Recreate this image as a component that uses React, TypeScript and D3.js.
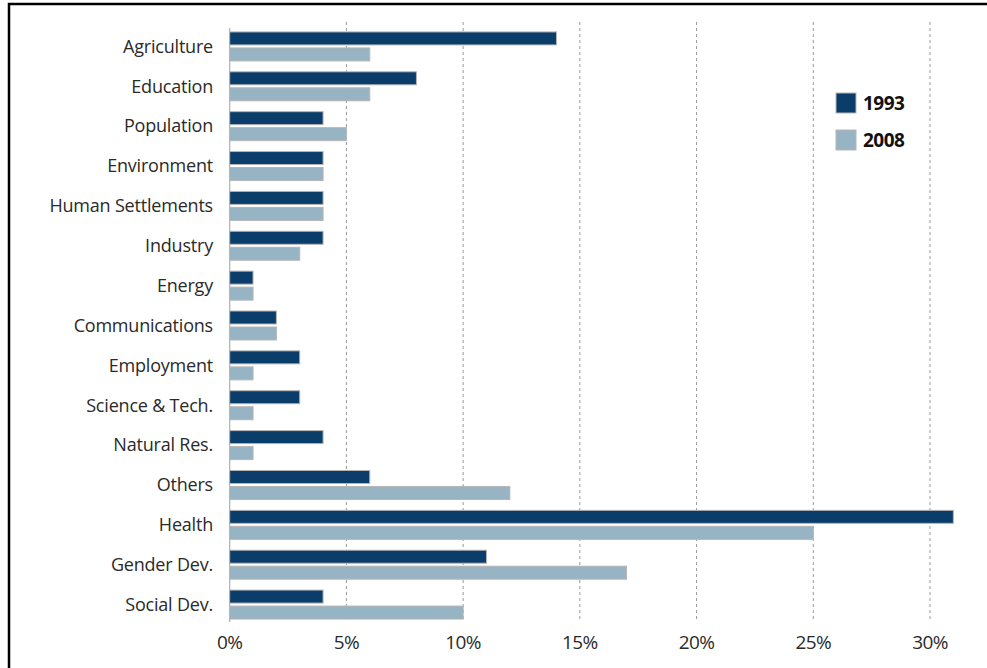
import React from "react";
import * as d3 from "d3";

const categories = [
  "Agriculture", "Education", "Population", "Environment", "Human Settlements",
  "Industry", "Energy", "Communications", "Employment", "Science & Tech.",
  "Natural Res.", "Others", "Health", "Gender Dev.", "Social Dev.",
];
const values1993 = [14, 8, 4, 4, 4, 4, 1, 2, 3, 3, 4, 6, 31, 11, 4];
const values2008 = [6, 6, 5, 4, 4, 3, 1, 2, 1, 1, 1, 12, 25, 17, 10];
const ticks = [0, 5, 10, 15, 20, 25, 30];
const seriesNames = ["1993", "2008"];
const colors = ["#0b3d6b", "#97b4c4"];

const W = 987, H = 668;
const FONT = "'Open Sans', 'DejaVu Sans', sans-serif";

export default function App() {
  const x = d3.scaleLinear().domain([0, 30]).range([229.7, 930]);
  const y = d3.scaleBand<string>().domain(categories).range([26.5, 624.5]);
  const barH = 13;
  const series = [values1993, values2008];
  return (
    <svg width={W} height={H} style={{ position: "absolute", left: 0, top: 0, background: "#fff" }}
      fontFamily={FONT}>
      <rect x={0} y={0} width={W} height={H} fill="#fff" />
      {/* frame */}
      <path d={`M9,${H + 5} L9,4 L${W + 5},4`} fill="none" stroke="#000" strokeWidth={2.5} />
      {/* grid */}
      {ticks.filter(t => t > 0).map(t => (
        <line key={t} x1={x(t)} x2={x(t)} y1={22} y2={622} stroke="#9a9a9a" strokeWidth={1}
          strokeDasharray="3,3" />
      ))}
      <line x1={x(0)} x2={x(0)} y1={28} y2={622} stroke="#b0b0b0" strokeWidth={1.2} />
      {/* bars */}
      {categories.map((c, i) => {
        const y0 = (y(c) as number) + y.bandwidth() / 2;
        return (
          <g key={c}>
            {series.map((s, k) => (
              <rect key={k} x={x(0)} y={k === 0 ? y0 - 14.5 : y0 + 1.5}
                width={x(s[i]) - x(0)} height={barH} fill={colors[k]}
                stroke="#b5b5b5" strokeWidth={1} />
            ))}
            <text x={213} y={y0} dy="0.35em" textAnchor="end" fontSize={18}
              fill="#2a2a2a" letterSpacing={-0.2}>{c}</text>
          </g>
        );
      })}
      {/* x tick labels */}
      {ticks.map(t => (
        <text key={t} x={x(t)} y={649} textAnchor="middle" fontSize={19} fill="#2a2a2a"
          letterSpacing={-0.6}>{`${t}%`}</text>
      ))}
      {/* legend */}
      {seriesNames.map((n, k) => (
        <g key={n} transform={`translate(836,${93 + k * 37})`}>
          <rect x={0} y={0} width={20} height={20} fill={colors[k]} stroke="#b5b5b5" strokeWidth={1} />
          <text x={27} y={10} dy="0.36em" fontSize={19} fontWeight="bold" fill="#111"
            letterSpacing={-0.5}>{n}</text>
        </g>
      ))}
    </svg>
  );
}
